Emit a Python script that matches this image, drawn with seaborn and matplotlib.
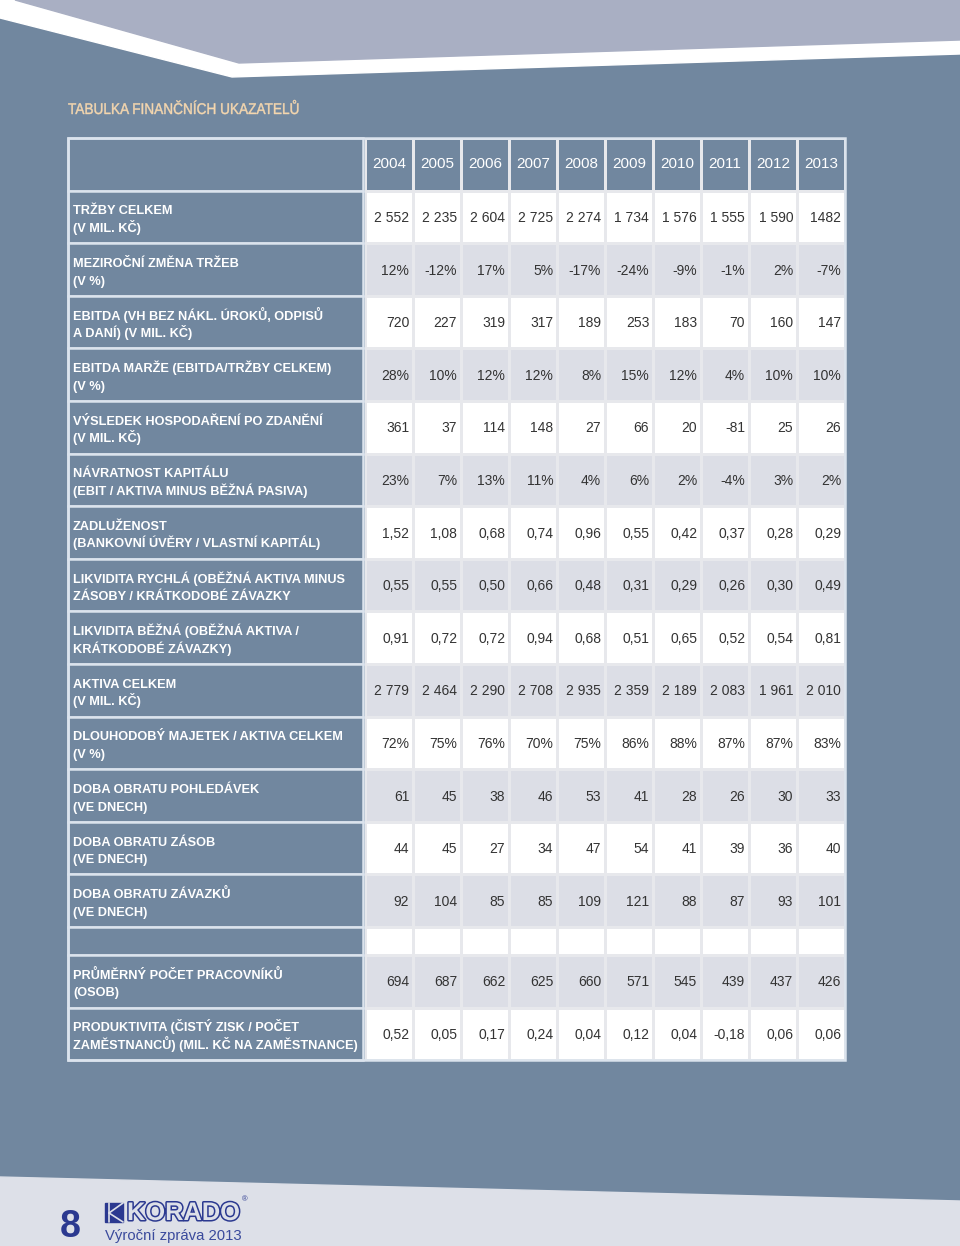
import numpy as np
import matplotlib
matplotlib.use("Agg")
import matplotlib.pyplot as plt
import matplotlib.patheffects as pe
from matplotlib.colors import ListedColormap
from matplotlib.patches import Rectangle, Polygon, PathPatch
from matplotlib.textpath import TextPath
from matplotlib.font_manager import FontProperties
from matplotlib.transforms import Affine2D
import seaborn as sns

# ---- data (as printed in the report) ----
years = ["2004", "2005", "2006", "2007", "2008", "2009", "2010", "2011", "2012", "2013"]

labels = [
    "TRŽBY CELKEM\n(V MIL. KČ)",
    "MEZIROČNÍ ZMĚNA TRŽEB\n(V %)",
    "EBITDA (VH BEZ NÁKL. ÚROKŮ, ODPISŮ\nA DANÍ) (V MIL. KČ)",
    "EBITDA MARŽE (EBITDA/TRŽBY CELKEM)\n(V %)",
    "VÝSLEDEK HOSPODAŘENÍ PO ZDANĚNÍ\n(V MIL. KČ)",
    "NÁVRATNOST KAPITÁLU\n(EBIT / AKTIVA MINUS BĚŽNÁ PASIVA)",
    "ZADLUŽENOST\n(BANKOVNÍ ÚVĚRY / VLASTNÍ KAPITÁL)",
    "LIKVIDITA RYCHLÁ (OBĚŽNÁ AKTIVA MINUS\nZÁSOBY / KRÁTKODOBÉ ZÁVAZKY",
    "LIKVIDITA BĚŽNÁ (OBĚŽNÁ AKTIVA /\nKRÁTKODOBÉ ZÁVAZKY)",
    "AKTIVA CELKEM\n(V MIL. KČ)",
    "DLOUHODOBÝ MAJETEK / AKTIVA CELKEM\n(V %)",
    "DOBA OBRATU POHLEDÁVEK\n(VE DNECH)",
    "DOBA OBRATU ZÁSOB\n(VE DNECH)",
    "DOBA OBRATU ZÁVAZKŮ\n(VE DNECH)",
]
labels_staff = [
    "PRŮMĚRNÝ POČET PRACOVNÍKŮ\n(OSOB)",
    "PRODUKTIVITA (ČISTÝ ZISK / POČET\nZAMĚSTNANCŮ) (MIL. KČ NA ZAMĚSTNANCE)",
]

trzby = ["2 552", "2 235", "2 604", "2 725", "2 274", "1 734", "1 576", "1 555", "1 590", "1482"]
zmena_trzeb = ["12%", "-12%", "17%", "5%", "-17%", "-24%", "-9%", "-1%", "2%", "-7%"]
ebitda = ["720", "227", "319", "317", "189", "253", "183", "70", "160", "147"]
ebitda_marze = ["28%", "10%", "12%", "12%", "8%", "15%", "12%", "4%", "10%", "10%"]
vysledek = ["361", "37", "114", "148", "27", "66", "20", "-81", "25", "26"]
navratnost = ["23%", "7%", "13%", "11%", "4%", "6%", "2%", "-4%", "3%", "2%"]
zadluzenost = ["1,52", "1,08", "0,68", "0,74", "0,96", "0,55", "0,42", "0,37", "0,28", "0,29"]
likvidita_rychla = ["0,55", "0,55", "0,50", "0,66", "0,48", "0,31", "0,29", "0,26", "0,30", "0,49"]
likvidita_bezna = ["0,91", "0,72", "0,72", "0,94", "0,68", "0,51", "0,65", "0,52", "0,54", "0,81"]
aktiva = ["2 779", "2 464", "2 290", "2 708", "2 935", "2 359", "2 189", "2 083", "1 961", "2 010"]
dlouhodoby_majetek = ["72%", "75%", "76%", "70%", "75%", "86%", "88%", "87%", "87%", "83%"]
obrat_pohledavek = ["61", "45", "38", "46", "53", "41", "28", "26", "30", "33"]
obrat_zasob = ["44", "45", "27", "34", "47", "54", "41", "39", "36", "40"]
obrat_zavazku = ["92", "104", "85", "85", "109", "121", "88", "87", "93", "101"]
pracovnici = ["694", "687", "662", "625", "660", "571", "545", "439", "437", "426"]
produktivita = ["0,52", "0,05", "0,17", "0,24", "0,04", "0,12", "0,04", "-0,18", "0,06", "0,06"]

main_rows = [trzby, zmena_trzeb, ebitda, ebitda_marze, vysledek, navratnost, zadluzenost,
             likvidita_rychla, likvidita_bezna, aktiva, dlouhodoby_majetek,
             obrat_pohledavek, obrat_zasob, obrat_zavazku]
staff_rows = [pracovnici, produktivita]

# ---- style ----
BG = "#71879f"
LAVENDER = "#a9afc3"
BAND = "#dde0e8"
NAVY = "#2b3990"
ZEBRA = "#dcdee6"
GRID = "#e7e8ec"
CELL_LINE = "#dbe3ed"

sns.set_theme(style="white")
plt.rcParams["font.family"] = ["Liberation Sans", "DejaVu Sans"]

W, H = 960, 1246
fig = plt.figure(figsize=(W / 100, H / 100), dpi=100, facecolor=BG)

bg = fig.add_axes([0, 0, 1, 1])
bg.set_xlim(0, W)
bg.set_ylim(H, 0)
bg.set_axis_off()
bg.add_patch(Rectangle((0, 0), W, H, color=BG, zorder=0))

# page decoration
bg.add_patch(Polygon([(0, 0), (W, 0), (W, 54), (232, 77), (0, 18)], color="white", zorder=1))
bg.add_patch(Polygon([(15, 0), (W, 0), (W, 40), (239, 63)], color=LAVENDER, zorder=2))
bg.add_patch(Polygon([(0, 1177), (W, 1201), (W, H), (0, H)], color=BAND, zorder=1))

# condensed title drawn as a horizontally squeezed text path
title_path = TextPath((0, 0), "TABULKA FINANČNÍCH UKAZATELŮ", size=15.5,
                      prop=FontProperties(family="Liberation Sans"))
bg.add_patch(PathPatch(title_path, facecolor="#f4d6ae", edgecolor="#f4d6ae", lw=0.3,
                       zorder=3,
                       transform=Affine2D().scale(0.88, -1).translate(68, 114) + bg.transData))


def px_axes(x0, y0, x1, y1):
    return fig.add_axes([x0 / W, 1 - y1 / H, (x1 - x0) / W, (y1 - y0) / H])


cmap = ListedColormap(["white", ZEBRA, BG])
TABLE_L, LABEL_R, DATA_L, DATA_R = 68, 363, 365, 845
HEAD_T, MAIN_B = 138, 927
GAP_B, TABLE_B = 955, 1060


def draw_block(ax, shade, cells, header=None):
    sns.heatmap(shade, ax=ax, cmap=cmap, vmin=0, vmax=2, cbar=False,
                linewidths=2, linecolor=GRID, xticklabels=False, yticklabels=False)
    ax.set_axis_off()
    offset = 0
    if header is not None:
        for j, y in enumerate(header):
            ax.text(j + 0.5, 0.5, y, ha="center", va="center", color="white", fontsize=11)
        offset = 1
    for i, row in enumerate(cells):
        for j, s in enumerate(row):
            ax.text(j + 0.92, i + offset + 0.52, s, ha="right", va="center",
                    color="#333333", fontsize=10)


# main block: header + 14 indicators
shade_main = np.array([[2] * len(years)] + [[i % 2] * len(years) for i in range(len(main_rows))])
ax_main = px_axes(DATA_L, HEAD_T, DATA_R, MAIN_B)
draw_block(ax_main, shade_main, main_rows, header=years)

# empty spacer row
ax_gap = px_axes(DATA_L, MAIN_B, DATA_R, GAP_B)
draw_block(ax_gap, np.zeros((1, len(years))), [])

# staff block
shade_staff = np.array([[(i + 1) % 2] * len(years) for i in range(len(staff_rows))])
ax_staff = px_axes(DATA_L, GAP_B, DATA_R, TABLE_B)
draw_block(ax_staff, shade_staff, staff_rows)


def label_cell(top, height, text):
    bg.add_patch(Rectangle((TABLE_L, top), LABEL_R - TABLE_L, height,
                           facecolor=BG, edgecolor=CELL_LINE, lw=1.8, zorder=3))
    if not text:
        return
    first, second = text.split("\n")
    base = top + height / 2 - 2.5
    bg.text(TABLE_L + 5, base, first, color="white", fontsize=9.2, fontweight="bold",
            va="baseline", ha="left", zorder=4)
    bg.text(TABLE_L + 5, base + 17.5, second, color="white", fontsize=9.2, fontweight="bold",
            va="baseline", ha="left", zorder=4)


# label column
row_h = (MAIN_B - HEAD_T) / (len(main_rows) + 1)
label_cell(HEAD_T, row_h, "")
for i, lab in enumerate(labels):
    label_cell(HEAD_T + (i + 1) * row_h, row_h, lab)
label_cell(MAIN_B, GAP_B - MAIN_B, "")
staff_h = (TABLE_B - GAP_B) / len(staff_rows)
for i, lab in enumerate(labels_staff):
    label_cell(GAP_B + i * staff_h, staff_h, lab)

# outer border of the table + footer
top = fig.add_axes([0, 0, 1, 1])
top.set_xlim(0, W)
top.set_ylim(H, 0)
top.set_axis_off()
top.patch.set_alpha(0)
top.add_patch(Rectangle((TABLE_L, HEAD_T), DATA_R - TABLE_L, TABLE_B - HEAD_T,
                        fill=False, edgecolor=CELL_LINE, lw=1.8))

top.text(70, 1227, "8", color=NAVY, fontsize=27, fontweight="bold", ha="center", va="center")
top.add_patch(Rectangle((105, 1203), 18, 19, color=NAVY))
top.plot([109, 109], [1203, 1222], color=BAND, lw=1.2)
top.plot([109, 123], [1213, 1203], color=BAND, lw=1.2)
top.plot([109, 123], [1213, 1222], color=BAND, lw=1.2)
top.text(127, 1213, "KORADO", color=BAND, fontsize=18.3, fontweight="bold",
         ha="left", va="center",
         path_effects=[pe.Stroke(linewidth=2.2, foreground=NAVY), pe.Normal()])
top.text(245, 1200, "®", color=NAVY, fontsize=5.5, ha="center", va="center")
top.text(105, 1236, "Výroční zpráva 2013", color="#3a4a9c", fontsize=10.7,
         ha="left", va="center")

fig.savefig("out.png", dpi=100, facecolor=BG)
